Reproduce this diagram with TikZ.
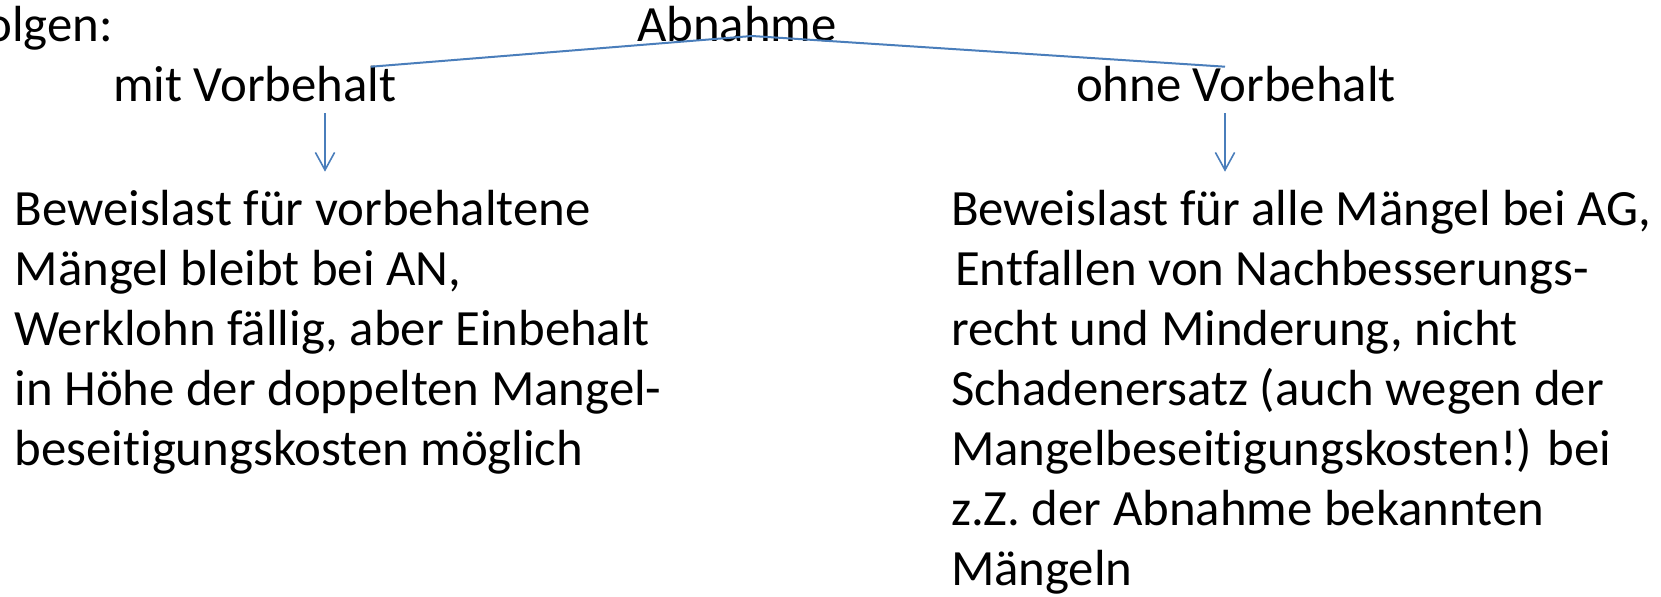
\documentclass[tikz,border=0pt]{standalone}
\usepackage{fontspec}
\setmainfont[Ligatures=NoCommon]{Carlito}
\usetikzlibrary{arrows.meta}

\begin{document}
\begin{tikzpicture}[x=1pt,y=1pt,
  lbl/.style={anchor=base west,inner sep=0pt,outer sep=0pt,font=\fontsize{25.4}{30}\selectfont},
  block/.style={lbl,align=left},
  conn/.style={draw=lineColor,line width=1.0pt,line join=round},
  pfeil/.style={draw=lineColor,line width=0.8pt,-{Straight Barb[length=8.8pt,width=9.6pt]}}]
\definecolor{lineColor}{RGB}{74,126,187}
\path[use as bounding box,fill=white] (0,0) rectangle (830.50,298.00);
\begin{scope}
\path[clip] (0,0) rectangle (830.50,298.00);

\node[lbl,anchor=base east] (folgen) at ( 56.40,277.15) {olgen:};
\end{scope}

\node[lbl] (abnahme) at (318.50,277.15) {Abnahme};

\node[lbl] (mit) at ( 56.50,247.15) {mit Vorbehalt};

\node[lbl] (ohne) at (538.00,247.15) {ohne Vorbehalt};

% Verzweigung
\coordinate (apex) at (376.00,280.00);
\coordinate (mitEnd) at (185.50,264.65);
\coordinate (ohneEnd) at (612.50,264.65);
\path[conn] (mitEnd) -- (apex) -- (ohneEnd);

% Pfeile
\coordinate (mitA) at (162.50,241.35);
\coordinate (mitB) at (162.50,212.15);
\coordinate (ohneA) at (612.50,241.35);
\coordinate (ohneB) at (612.50,212.15);
\path[pfeil] (mitA) -- (mitB);
\path[pfeil] (ohneA) -- (ohneB);

% base = letzte Zeile
\node[block] (links) at (  7.30, 65.50) {Beweislast für vorbehaltene\\
Mängel bleibt bei AN,\\
Werklohn fällig, aber Einbehalt\\
in Höhe der doppelten Mangel-\\
beseitigungskosten möglich};

\node[block] (rechts) at (475.50,  5.30) {Beweislast für alle Mängel bei AG,\\
\hspace{2pt}Entfallen von Nachbesserungs-\\
recht und Minderung, nicht\\
Schadenersatz (auch wegen der\\
Mangelbeseitigungskosten!) bei\\
z.Z. der Abnahme bekannten\\
Mängeln};
\end{tikzpicture}
\end{document}
